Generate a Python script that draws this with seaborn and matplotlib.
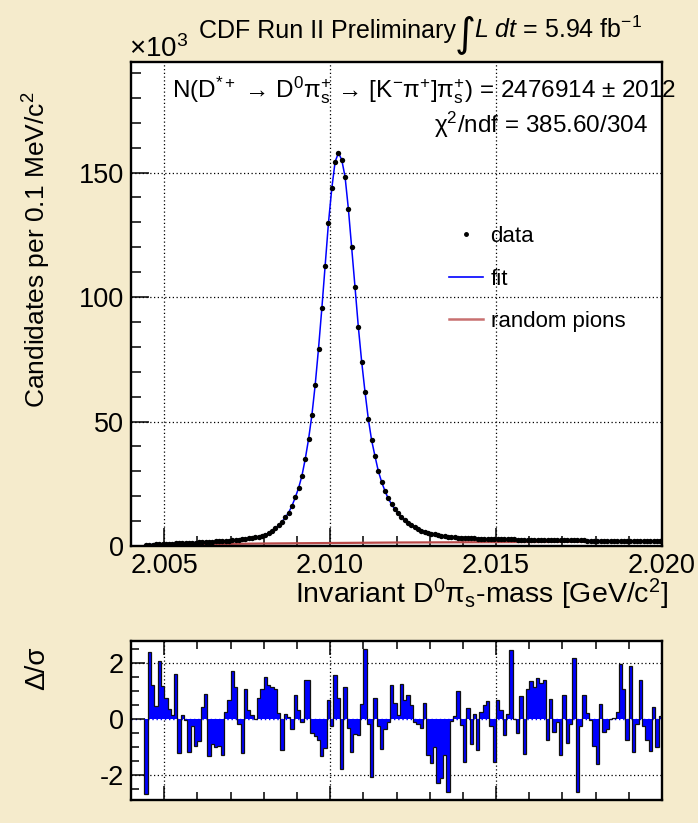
import numpy as np
import pandas as pd
import matplotlib
matplotlib.use("Agg")
import matplotlib.pyplot as plt
import seaborn as sns
from matplotlib.lines import Line2D
from matplotlib.ticker import MultipleLocator, FormatStrFormatter

# ---------------- data ----------------
mass_min, mass_max, n_bins = 2.004, 2.020, 160

# candidates per 0.1 MeV/c^2, in units of 10^3 (NaN = below threshold, empty)
candidates_k = [
    np.nan, np.nan, np.nan, np.nan, 0.3, 0.5, 0.6, 0.7, 0.8, 0.85,
    0.9, 0.95, 1.0, 1.05, 1.1, 1.15, 1.2, 1.25, 1.3, 1.4,
    1.5, 1.55, 1.6, 1.7, 1.75, 1.85, 1.9, 2.0, 2.1, 2.2,
    2.3, 2.45, 2.6, 2.75, 2.9, 3.1, 3.3, 3.55, 3.8, 4.0,
    4.6, 5.3, 6.1, 7.1, 8.35, 9.75, 11.45, 13.45, 16.1, 19.5,
    23.3, 28.2, 34.9, 42.9, 52.5, 64.7, 79.3, 95.4, 112.5, 129.8,
    143.6, 154.3, 157.9, 155.1, 148.3, 135.4, 119.9, 104.0, 88.0, 74.1,
    62.0, 51.1, 42.5, 36.2, 30.2, 25.8, 22.2, 19.1, 16.8, 14.8,
    13.1, 11.6, 10.3, 9.3, 8.4, 7.6, 6.9, 6.2, 5.75, 5.35,
    4.95, 4.7, 4.45, 4.2, 3.95, 3.75, 3.6, 3.5, 3.4, 3.3,
    3.2, 3.15, 3.1, 3.05, 3.0, 2.95, 2.9, 2.87, 2.83, 2.8,
    2.77, 2.74, 2.71, 2.68, 2.65, 2.62, 2.6, 2.57, 2.55, 2.52,
    2.5, 2.48, 2.46, 2.44, 2.42, 2.4, 2.38, 2.36, 2.34, 2.32,
    2.3, 2.28, 2.27, 2.25, 2.24, 2.22, 2.21, 2.2, 2.18, 2.17,
    2.16, 2.15, 2.14, 2.13, 2.12, 2.11, 2.1, 2.09, 2.08, 2.07,
    2.06, 2.05, 2.04, 2.03, 2.02, 2.01, 2.0, 1.99, 1.98, 1.97,
]

# pulls (data - fit) / sigma per bin
residuals = [
    0, 0, 0, 0, -2.69, 2.37, 1.20, 0.45, 2.05, 1.19,
    0.74, 0.36, 0.15, 1.61, -1.23, 0.15, -0.05, -1.18, -0.26, -0.97,
    -0.81, 0.42, 0.87, -1.33, -0.91, -1.0, -0.97, -1.29, 0.26, 0.66,
    1.71, 1.13, -0.20, -1.23, 1.08, 0.31, 0.12, 0.0, 0.76, 1.08,
    1.48, 1.22, 1.12, 1.08, 0.2, -1.1, 0.18, 0.08, -0.38, 0.85,
    0.33, -0.12, 1.39, 1.37, -0.5, -0.6, -0.75, -1.32, -1.05, 0.68,
    -0.26, 1.58, 0.74, -1.8, 1.14, -0.33, -1.19, -0.53, -0.57, 0.53,
    2.5, -0.2, -2.07, 0.75, -0.26, -1.07, -0.36, -0.12, 1.22, 0.57,
    0.15, 1.26, 0.69, 0.85, 0.49, -0.12, -0.2, -0.33, 0.58, -1.3,
    -1.58, -1.0, -2.28, -2.12, -1.29, -2.63, -0.08, 0.09, 1.0, -0.22,
    -1.54, 0.37, -0.89, 0.18, -1.12, 0.23, 0.51, 0.62, -0.24, -1.53,
    0.66, 0.33, -0.57, 0.19, 2.45, 0.0, -0.51, 0.83, -1.25, 1.08,
    1.34, 1.14, 1.45, 1.29, 1.40, -0.74, 0.71, -0.46, -0.1, -1.29,
    0.85, -0.87, -0.2, 2.17, -2.63, -0.24, 0.85, 0.2, -0.05, -0.97,
    -1.63, 0.53, -0.46, -0.36, 0.0, 0.02, 0.26, 1.97, 1.08, -0.74,
    1.88, -1.18, -0.17, 1.4, -0.26, -0.76, -1.16, 0.42, -1.01, 0.1,
]

# random pions background (10^3 per bin)
bkg_mass = [2.0044, 2.005, 2.006, 2.007, 2.008, 2.009, 2.010, 2.011, 2.012,
            2.013, 2.014, 2.015, 2.016, 2.017, 2.018, 2.019, 2.020]
bkg_k = [0.0, 0.45, 0.7, 0.85, 1.0, 1.1, 1.2, 1.3, 1.4,
         1.45, 1.5, 1.55, 1.6, 1.65, 1.7, 1.72, 1.75]

legend_labels = ['data', 'fit', 'random pions']

# ---------------- style ----------------
W, H = 698, 823
BG = '#F5EBCC'
plt.rcParams['font.family'] = ['Liberation Sans', 'DejaVu Sans']
plt.rcParams['mathtext.fontset'] = 'custom'
plt.rcParams['mathtext.rm'] = 'Liberation Sans'
plt.rcParams['mathtext.it'] = 'Liberation Sans:italic'
plt.rcParams['mathtext.bf'] = 'Liberation Sans:bold'
plt.rcParams['axes.unicode_minus'] = False

edges = np.linspace(mass_min, mass_max, n_bins + 1)
centers = 0.5 * (edges[:-1] + edges[1:])
df = pd.DataFrame({'mass': centers, 'cand': candidates_k, 'resid': residuals})
df_valid = df.dropna()
bkg_df = pd.DataFrame({'mass': bkg_mass, 'bkg': bkg_k})


def px(x, y):
    return x / W, 1 - y / H


fig = plt.figure(figsize=(W / 100, H / 100), dpi=100, facecolor=BG)
ax = fig.add_axes([131 / W, 1 - 546 / H, 531 / W, 484 / H])
axr = fig.add_axes([131 / W, 1 - 800 / H, 531 / W, 159 / H])

dot = (0, (1, 2))
for a in (ax, axr):
    a.set_facecolor('white')
    for s in a.spines.values():
        s.set_linewidth(1.7)
        s.set_color('black')
    for xv in (2.005, 2.010, 2.015):
        a.axvline(xv, color='black', ls=dot, lw=0.9, zorder=0.5)

for yv in (50, 100, 150):
    ax.axhline(yv, color='black', ls=dot, lw=0.9, zorder=0.5)

# main panel
sns.lineplot(data=bkg_df, x='mass', y='bkg', ax=ax, color='#b94a4a', lw=1.6,
             zorder=2, label='_nolegend_')
sns.lineplot(data=df_valid, x='mass', y='cand', ax=ax, color='blue', lw=1.1,
             estimator=None, zorder=3, label='_nolegend_')
sns.scatterplot(data=df_valid, x='mass', y='cand', ax=ax, color='black', s=15,
                linewidth=0, zorder=4, label='_nolegend_')

ax.set_xlim(mass_min, mass_max)
ax.set_ylim(0, 194.4)
ax.xaxis.set_major_locator(MultipleLocator(0.005))
ax.xaxis.set_minor_locator(MultipleLocator(0.001))
ax.xaxis.set_major_formatter(FormatStrFormatter('%.3f'))
ax.yaxis.set_major_locator(MultipleLocator(50))
ax.yaxis.set_minor_locator(MultipleLocator(10))
ax.tick_params(which='both', direction='in', top=False, right=False,
               labelsize=19.5, width=1.1, color='black')
ax.tick_params(which='major', length=13, pad=5)
ax.tick_params(which='minor', length=7)
ax.set_xlabel('')
ax.set_ylabel('')
if ax.get_legend():
    ax.get_legend().remove()

handles = [
    Line2D([], [], color='black', marker='o', markersize=2.5, ls='none'),
    Line2D([], [], color='blue', lw=1.2),
    Line2D([], [], color='#c87070', lw=1.8),
]
leg = fig.legend(handles, legend_labels, loc='upper left',
                 bbox_to_anchor=px(449, 226), frameon=False, fontsize=16,
                 handlelength=1.55, handletextpad=0.32, labelspacing=0.97,
                 borderpad=0, borderaxespad=0)

# residual panel
sns.histplot(data=df, x='mass', weights='resid', bins=list(edges), element='step',
             fill=True, color='blue', alpha=1, linewidth=0, ax=axr, zorder=2)
axr.stairs(residuals[4:], edges[4:], baseline=0, color='#111111', lw=0.9, zorder=3)
axr.axhline(0, color='blue', ls=dot, lw=1.0, zorder=1)
for yv in (2, -2):
    axr.axhline(yv, color='black', ls=dot, lw=0.9, zorder=0.5)
axr.set_xlim(mass_min, mass_max)
axr.set_ylim(-2.9, 2.78)
axr.xaxis.set_major_locator(MultipleLocator(0.005))
axr.xaxis.set_minor_locator(MultipleLocator(0.001))
axr.yaxis.set_major_locator(MultipleLocator(2))
axr.yaxis.set_minor_locator(MultipleLocator(0.5))
axr.tick_params(which='both', direction='in', top=True, right=False,
                labelbottom=False, labelsize=19.5, width=1.1)
axr.tick_params(which='major', length=10, pad=5)
axr.tick_params(which='minor', length=6)
axr.set_xlabel('')
axr.set_ylabel('')

# texts
fig.text(*px(199, 38), 'CDF Run II Preliminary', fontsize=18, ha='left',
         va='baseline')
fig.text(*px(455, 45), '∫', fontsize=29, ha='left', va='baseline',
         family=['DejaVu Sans'])
fig.text(*px(474, 38), r'$L$ $dt$ = 5.94 fb$^{\mathrm{-1}}$', fontsize=18,
         ha='left', va='baseline')
fig.text(*px(129, 57), r'×10$^{3}$', fontsize=20, ha='left', va='baseline')
fig.text(*px(172, 90),
         r'N(D$^{*+}$ → D$^{0}$π$_\mathrm{s}^{+}$ → '
         r'[K$^{-}$π$^{+}$]π$_\mathrm{s}^{+}$) = 2476914 ± 2012',
         fontsize=17.5, ha='left', va='center')
fig.text(*px(648, 125), r'χ$^{2}$/ndf = 385.60/304', fontsize=17.5,
         ha='right', va='center')
fig.text(*px(668, 594), r'Invariant D$^{0}$π$_\mathrm{s}$-mass [GeV/c$^{2}$]',
         fontsize=20.5, ha='right', va='center')
fig.text(*px(37, 92), r'Candidates per 0.1 MeV/c$^{2}$', fontsize=19,
         rotation=90, ha='center', va='top')
fig.text(*px(37, 646), 'Δ/σ', fontsize=20, rotation=90, ha='center', va='top')

fig.savefig('out.png', dpi=100, facecolor=BG)
